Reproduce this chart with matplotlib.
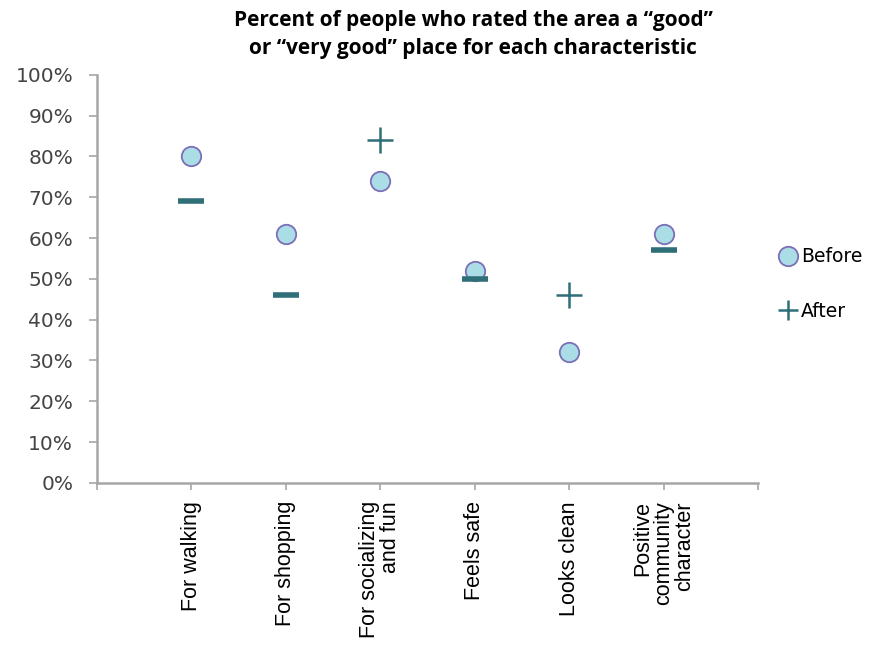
import numpy as np
import matplotlib.pyplot as plt

categories = ["For walking", "For shopping", "For socializing\nand fun",
              "Feels safe", "Looks clean", "Positive\ncommunity\ncharacter"]
before = [80, 61, 74, 52, 32, 61]
after = [69, 46, 84, 50, 46, 57]
y_ticks = [0, 10, 20, 30, 40, 50, 60, 70, 80, 90, 100]

circle_face = "#aadde6"
circle_edge = "#7b70b8"
after_col = "#2f6f78"
axis_col = "#a6a6a6"

fig = plt.figure(figsize=(8.88, 6.5), dpi=100)
ax = fig.add_axes([0.109, 0.257, 0.745, 0.628])

x = np.arange(1, len(categories) + 1)

ax.plot(x, before, linestyle="none", marker="o", ms=14, mfc=circle_face,
        mec=circle_edge, mew=1.3, zorder=3, label="Before")

# increases get a plus, decreases a minus
for xi, b, a in zip(x, before, after):
    if a > b:
        ax.plot(xi, a, marker="+", ms=19, mew=1.8, color=after_col, zorder=4)
    else:
        ax.plot(xi, a, marker="_", ms=19, mew=4, color=after_col, zorder=4)
ax.plot([], [], linestyle="none", marker="+", ms=14, mew=1.8, color=after_col, label="After")

ax.set_xlim(0, 7)
ax.set_ylim(0, 100)
ax.set_yticks(y_ticks)
ax.set_yticklabels([f"{v}%" for v in y_ticks])
ax.set_xticks(range(0, 8))
ax.set_xticklabels([""] + categories + [""], rotation=90, va="top", ha="center",
                   multialignment="right", linespacing=1.0,
                   fontfamily="Liberation Sans", fontsize=15.5, color="black")

for side in ["top", "right"]:
    ax.spines[side].set_visible(False)
for side in ["left", "bottom"]:
    ax.spines[side].set_color(axis_col)
    ax.spines[side].set_linewidth(1.8)
ax.tick_params(axis="y", direction="out", length=6, width=1.2, color=axis_col,
               labelsize=14.5, labelcolor="#444444", pad=11)
ax.tick_params(axis="x", direction="out", length=5, width=1.2, color=axis_col, pad=8)

fig.suptitle("Percent of people who rated the area a \u201cgood\u201d\nor \u201cvery good\u201d place for each characteristic",
             fontfamily="Open Sans", fontweight="bold", fontsize=15, y=0.985,
             x=0.533, linespacing=1.45)

fig.legend(loc="center left", bbox_to_anchor=(0.86, 0.563), frameon=False,
           labelspacing=1.9, handlelength=0.8, handletextpad=0.3,
           prop={"family": "DejaVu Sans", "size": 13.5})

fig.savefig("out.png", dpi=100)
